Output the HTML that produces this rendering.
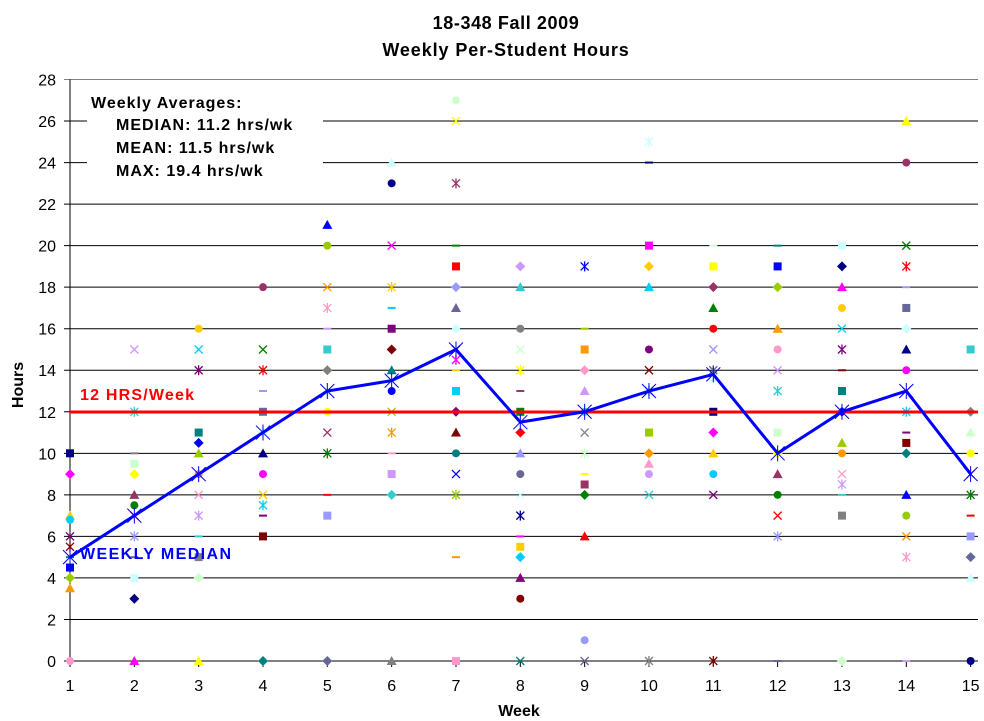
<!DOCTYPE html>
<html><head><meta charset="utf-8"><style>
body{margin:0;background:#fff}
svg{display:block;font-family:"Liberation Sans",Arial,sans-serif}
</style></head><body>
<svg id="s" width="984" height="721" viewBox="0 0 984 721" xmlns="http://www.w3.org/2000/svg">
<rect width="984" height="721" fill="#fff"/>
<text x="506" y="29" font-size="18" font-weight="bold" text-anchor="middle" letter-spacing="0.6">18-348 Fall 2009</text>
<text x="506" y="56" font-size="18" font-weight="bold" text-anchor="middle" letter-spacing="0.9">Weekly Per-Student Hours</text>
<g id="grid"></g>
<rect x="87" y="88" width="236" height="96" fill="#fff"/>
<text x="91" y="108" font-size="16" font-weight="bold" letter-spacing="1">Weekly Averages:</text>
<text x="116" y="130" font-size="16" font-weight="bold" letter-spacing="1">MEDIAN: 11.2 hrs/wk</text>
<text x="116" y="153" font-size="16" font-weight="bold" letter-spacing="1">MEAN: 11.5 hrs/wk</text>
<text x="116" y="176" font-size="16" font-weight="bold" letter-spacing="1">MAX: 19.4 hrs/wk</text>
<g id="pts"></g>
<line x1="70" y1="412" x2="978" y2="412" stroke="#f00" stroke-width="3"/>
<polyline id="med" fill="none" stroke="#0000ff" stroke-width="3"/>
<g id="medm"></g>
<text x="80" y="400" font-size="16" font-weight="bold" fill="#f00" letter-spacing="1.2">12 HRS/Week</text>
<text x="80" y="559" font-size="16" font-weight="bold" fill="#0000ff" letter-spacing="1.4">WEEKLY MEDIAN</text>
<text transform="translate(23,385) rotate(-90)" font-size="16" font-weight="bold" text-anchor="middle">Hours</text>
<text x="519" y="716" font-size="16" font-weight="bold" text-anchor="middle">Week</text>
</svg>
<script>
const NS="http://www.w3.org/2000/svg";
const X=w=>70+(w-1)*64.33, Y=v=>661-v*20.768;
function el(p,t,a){const e=document.createElementNS(NS,t);for(const k in a)e.setAttribute(k,a[k]);p.appendChild(e);return e;}
const g=document.getElementById('grid');
for(let v=0;v<=28;v+=2){const y=Y(v);
 el(g,'line',{x1:64,y1:y,x2:978,y2:y,stroke:v==28?'#808080':'#000','stroke-width':1});
 const t=el(g,'text',{x:56,y:y+6,'font-size':16,'text-anchor':'end'});t.textContent=v;}
el(g,'line',{x1:70,y1:Y(28),x2:70,y2:661,stroke:'#000'});
for(let w=1;w<=15;w++){el(g,'line',{x1:X(w),y1:661,x2:X(w),y2:667,stroke:'#000'});
 const t=el(g,'text',{x:X(w),y:691,'font-size':16,'text-anchor':'middle'});t.textContent=w;}
const data={1:[10,9,7,6.8,6,5.5,5,4.5,4,3.5,0],2:[15,12,10,9.5,9,8,7.5,7,6,5,4,3,0],
3:[16,15,14,12,11,10.5,10,9,8,7,6,5,4,0],4:[18,15,14,13,12,11,10,9,8,7.5,7,6,0],
5:[21,20,18,17,16,15,14,13,12,11,10,8,7,0],6:[24,23,20,18,17,16,15,14,13,12,11,10,9,8,0],
7:[27,26,23,20,19,18,17,16,15,14.5,14,13,12,11,10,9,8,5,0],8:[19,18,16,15,14,13,12,11,10,9,8,7,6,5.5,5,4,3,0],
9:[19,16,15,14,13,12,11,10,9,8.5,8,6,1,0],10:[25,24,20,19,18,15,14,13,12,11,10,9.5,9,8,0],
11:[20,19,18,17,16,15,14,13.5,12,11,10,9,8,0],12:[20,19,18,16,15,14,13,12,11,10,9,8,7,6,0],
13:[20,19,18,17,16,15,14,13,12,10.5,10,9,8.5,8,7,0],14:[26,24,20,19,18,17,16,15,14,13,12,11,10.5,10,8,7,6,5,0],
15:[15,12,11,10,9,8,7,6,5,4,0]};
const cols=['#000080','#ff00ff','#ffcc00','#00ccff','#800080','#800000','#008080','#0000ff','#99cc00','#ff9900','#ff99cc','#cc99ff','#33cccc','#808080','#ccffcc','#ffff00','#993366','#008000','#ff0000','#9999ff','#666699','#ccffff'];
const p=document.getElementById('pts');let k=0;
for(const w in data){for(const v of data[w]){const x=X(+w),y=Y(v),c=cols[k%cols.length],s=k%7;k++;
 if(s==0)el(p,'rect',{x:x-4,y:y-4,width:8,height:8,fill:c});
 else if(s==1)el(p,'polygon',{points:`${x},${y-5} ${x+5},${y} ${x},${y+5} ${x-5},${y}`,fill:c});
 else if(s==2)el(p,'polygon',{points:`${x},${y-5} ${x+5},${y+4} ${x-5},${y+4}`,fill:c});
 else if(s==3)el(p,'circle',{cx:x,cy:y,r:4,fill:c});
 else if(s==4)el(p,'path',{d:`M${x-4} ${y-4}L${x+4} ${y+4}M${x+4} ${y-4}L${x-4} ${y+4}`,stroke:c,'stroke-width':1.3});
 else if(s==5)el(p,'path',{d:`M${x-4} ${y-4}L${x+4} ${y+4}M${x+4} ${y-4}L${x-4} ${y+4}M${x} ${y-5}L${x} ${y+5}`,stroke:c,'stroke-width':1.3});
 else el(p,'line',{x1:x-4,y1:y,x2:x+4,y2:y,stroke:c,'stroke-width':2});}}
const med=[5,7,9,11,13,13.5,15,11.5,12,13,13.8,10,12,13,9];
document.getElementById('med').setAttribute('points',med.map((v,i)=>X(i+1)+','+Y(v)).join(' '));
const mm=document.getElementById('medm');
med.forEach((v,i)=>{const x=X(i+1),y=Y(v);el(mm,'path',{d:`M${x-7} ${y-7}L${x+7} ${y+7}M${x+7} ${y-7}L${x-7} ${y+7}M${x} ${y-8}L${x} ${y+8}`,stroke:'#0000ff','stroke-width':1});});
</script>
</body></html>
